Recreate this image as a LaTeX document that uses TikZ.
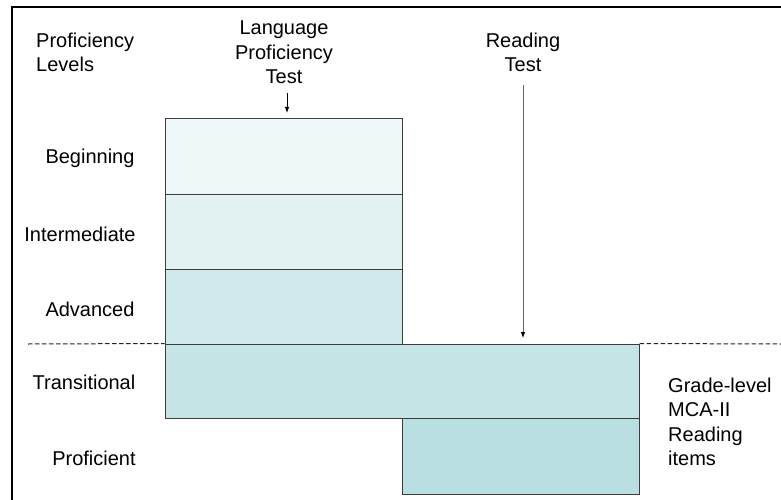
\documentclass[tikz,border=0pt]{standalone}
\usepackage{fontspec}
\setmainfont{Liberation Sans}
\usetikzlibrary{arrows.meta}
\definecolor{cBeg}{HTML}{EFF8F8}
\definecolor{cInt}{HTML}{E2F2F3}
\definecolor{cAdv}{HTML}{D0E9EA}
\definecolor{cTra}{HTML}{C5E4E6}
\definecolor{cPro}{HTML}{B9DFE2}
\definecolor{edge}{HTML}{3C3C3C}
\begin{document}
\begin{tikzpicture}[x=1pt,y=-1pt,
  lvlbox/.style={draw=edge,line width=1pt,inner sep=0pt},
  lbl/.style={inner sep=0pt,font=\fontsize{20}{24.5}\selectfont},
  arr/.style={-{Latex[length=6pt,width=4.5pt,black]},line width=0.9pt},
  dashline/.style={draw=black!85,line width=1pt,dash pattern=on 4.5pt off 2.5pt}]
\useasboundingbox (0,0) rectangle (781,500);
\fill[white] (0,0) rectangle (781,500);
% frame
\draw[line width=2.6pt,line cap=rect] (12,503) -- (12,7) -- (785,7);
% boxes
\node[lvlbox,fill=cBeg,minimum width=237pt,minimum height=75pt] (beg) at (283.5,156.5) {};
\node[lvlbox,fill=cInt,minimum width=237pt,minimum height=75pt] (int) at (283.5,231.5) {};
\node[lvlbox,fill=cAdv,minimum width=237pt,minimum height=75pt] (adv) at (283.5,306.5) {};
\node[lvlbox,fill=cTra,minimum width=474pt,minimum height=74pt] (tra) at (402,381) {};
\node[lvlbox,fill=cPro,minimum width=237pt,minimum height=76pt] (pro) at (520.5,456) {};
% dashed lines
\coordinate (dl) at (28,344);
\coordinate (dr) at (781,344);
\draw[dashline] (dl) -- (tra.north west);
\draw[dashline] (tra.north east) -- (dr);
% labels
\node[lbl,align=left,anchor=west] (pl) at (36,52.5) {Proficiency\\Levels};
\node[lbl,align=center] (lpt) at (284,52.5) {Language\\Proficiency\\Test};
\node[lbl,align=center] (rt) at (523,52.5) {Reading\\Test};
\node[lbl] (lb) at (90,158.5) {Beginning};
\node[lbl] (li) at (80,234.5) {Intermediate};
\node[lbl] (la) at (90,309.5) {Advanced};
\node[lbl] (lt) at (84,382.5) {Transitional};
\node[lbl] (lp) at (94,458.5) {Proficient};
\node[lbl,align=left,anchor=west] (gl) at (668,422) {Grade-level\\MCA-II\\Reading\\items};
% arrows
\coordinate (a1s) at (287,93);
\coordinate (a1e) at (287,113);
\coordinate (a2s) at (523,85);
\coordinate (a2e) at (523,338);
\draw[arr] (a1s) -- (a1e);
\draw[arr,draw=black!60] (a2s) -- (a2e);
\end{tikzpicture}
\end{document}
